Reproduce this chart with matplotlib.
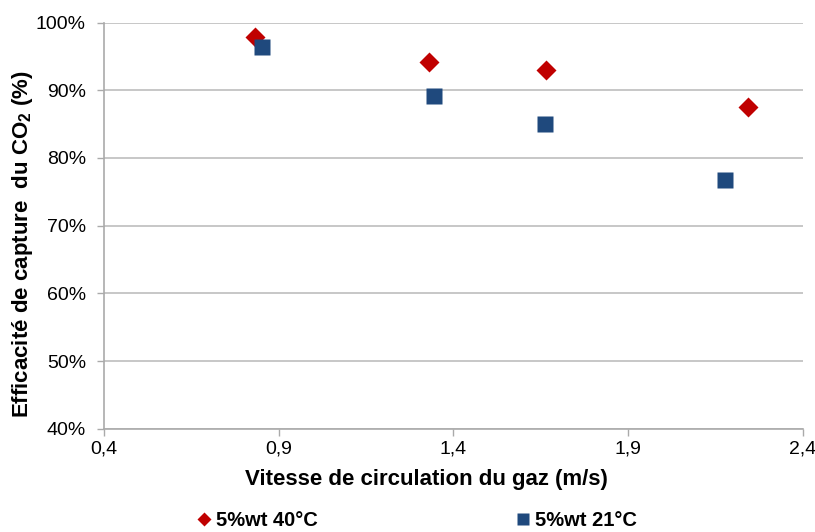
import numpy as np
import matplotlib.pyplot as plt
from matplotlib.ticker import FuncFormatter

plt.rcParams['font.family'] = ['Liberation Sans', 'DejaVu Sans']
plt.rcParams['mathtext.fontset'] = 'custom'
plt.rcParams['mathtext.rm'] = 'Liberation Sans'
plt.rcParams['mathtext.bf'] = 'Liberation Sans:bold'

# donnees
vit_40 = [0.832, 1.331, 1.665, 2.243]
eff_40 = [97.8, 94.2, 93.0, 87.5]
vit_21 = [0.851, 1.344, 1.662, 2.177]
eff_21 = [96.4, 89.1, 85.0, 76.7]
lab_40 = '5%wt 40°C'
lab_21 = '5%wt 21°C'

fig = plt.figure(figsize=(8.15, 5.32), dpi=100)
ax = fig.add_axes([0.1276, 0.194, 0.8574, 0.7637])

ax.plot(vit_40, eff_40, ls='none', marker='D', ms=10.2, color='#C00000',
        mec='none', label=lab_40, zorder=3)
ax.plot(vit_21, eff_21, ls='none', marker='s', ms=12.2, color='#1F497D',
        mec='none', label=lab_21, zorder=3)

ax.set_xlim(0.4, 2.4)
ax.set_ylim(40, 100)
ax.set_xticks([0.4, 0.9, 1.4, 1.9, 2.4])
ax.set_yticks(np.arange(40, 101, 10))
ax.xaxis.set_major_formatter(FuncFormatter(lambda v, p: f'{v:.1f}'.replace('.', ',')))
ax.yaxis.set_major_formatter(FuncFormatter(lambda v, p: f'{v:.0f}%'))

ax.grid(axis='y', color='#BEBEBE', lw=1.2)
ax.set_axisbelow(True)
for s in ['top', 'right']:
    ax.spines[s].set_visible(False)
for s in ['left', 'bottom']:
    ax.spines[s].set_color('#AAAAAA')
    ax.spines[s].set_linewidth(1.2)
ax.tick_params(colors='#AAAAAA', labelcolor='black', labelsize=14, length=5, width=1)
ax.tick_params(axis='y', pad=8)

ax.set_xlabel('Vitesse de circulation du gaz (m/s)', fontsize=16, fontweight='bold')
ax.set_ylabel('Efficacité de capture  du CO$_\\mathbf{2}$ (%)', fontsize=16, fontweight='bold')
ax.xaxis.set_label_coords(0.461, -0.10)
ax.yaxis.set_label_coords(-0.099, 0.455)

leg = fig.legend(loc='center left', bbox_to_anchor=(0.230, 0.022), ncol=2, frameon=False,
                 prop={'size': 14.5, 'weight': 'bold'}, handlelength=0.6, handletextpad=0.3,
                 columnspacing=9.9, borderpad=0)
leg.legend_handles[0].set_markersize(7.5)
leg.legend_handles[1].set_markersize(9)

fig.savefig('out.png', dpi=100)
